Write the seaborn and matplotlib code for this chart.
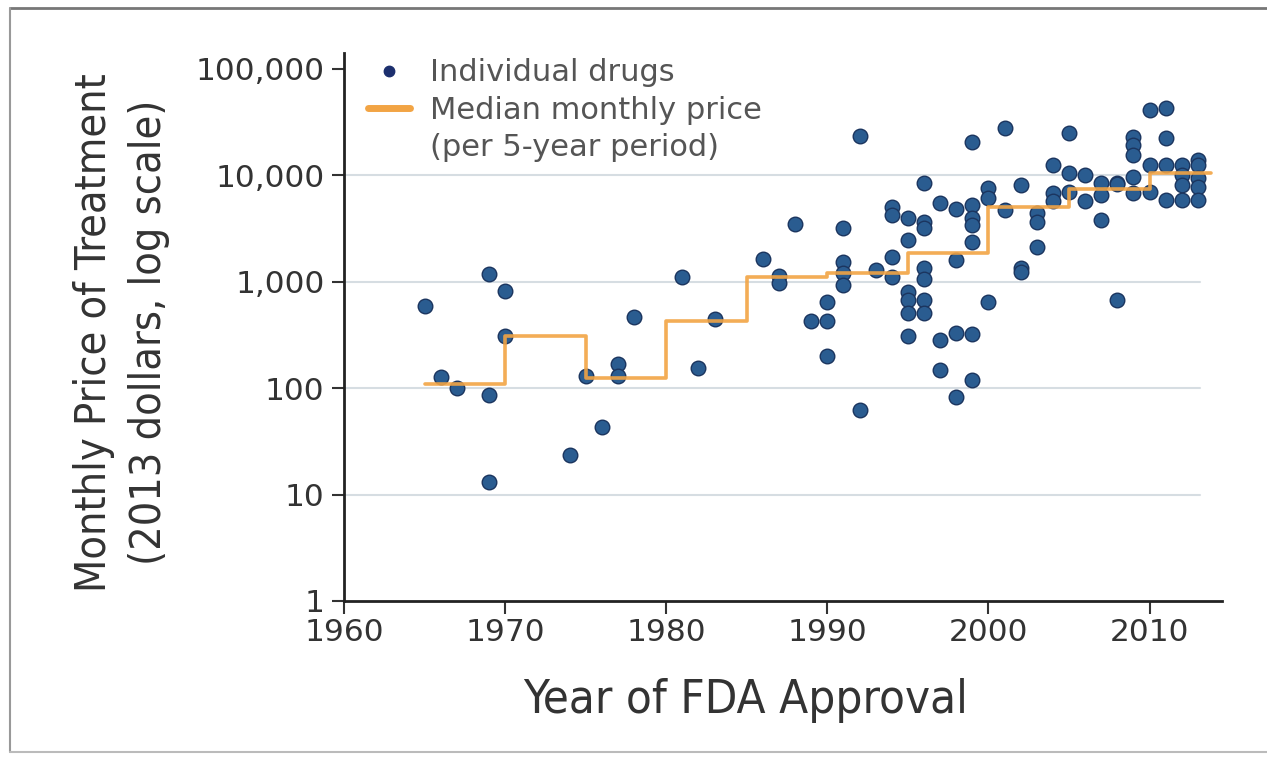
import numpy as np
import pandas as pd
import seaborn as sns
import matplotlib
matplotlib.use("Agg")
import matplotlib.pyplot as plt
from matplotlib.lines import Line2D
from matplotlib.ticker import FixedLocator, FuncFormatter, NullLocator
from matplotlib import font_manager

# Anno di approvazione FDA e prezzo mensile (dollari 2013) per ciascun farmaco
years = [
    1965, 1966, 1967, 1969, 1969, 1969, 1970, 1970, 1974, 1975, 1976, 1977, 1977, 1978,
    1981, 1982, 1983, 1986, 1987, 1987, 1988, 1989, 1990, 1990, 1990,
    1991, 1991, 1991, 1991, 1992, 1992, 1993, 1994, 1994, 1994, 1994,
    1995, 1995, 1995, 1995, 1995, 1995,
    1996, 1996, 1996, 1996, 1996, 1996, 1996,
    1997, 1997, 1997, 1998, 1998, 1998, 1998,
    1999, 1999, 1999, 1999, 1999, 1999, 1999,
    2000, 2000, 2000, 2001, 2001, 2002, 2002, 2002,
    2003, 2003, 2003, 2004, 2004, 2004, 2005, 2005, 2005,
    2006, 2006, 2007, 2007, 2007, 2008, 2008, 2008,
    2009, 2009, 2009, 2009, 2009, 2010, 2010, 2010,
    2011, 2011, 2011, 2011, 2012, 2012, 2012, 2012,
    2013, 2013, 2013, 2013, 2013,
]
prices = [
    590, 127, 100, 1190, 86, 13, 820, 310, 23.5, 130, 43, 170, 130, 470,
    1110, 155, 450, 1640, 1130, 980, 3500, 430, 650, 430, 200,
    3200, 1540, 1210, 930, 23500, 63, 1300, 5000, 4200, 1700, 1110,
    4000, 2450, 800, 680, 510, 310,
    8500, 3650, 3200, 1350, 1050, 680, 510,
    5500, 285, 148, 4800, 1600, 330, 83,
    20500, 5300, 4000, 3400, 2350, 320, 120,
    7600, 6100, 650, 28000, 4700, 8100, 1350, 1240,
    4450, 3650, 2100, 12500, 6800, 5700, 25000, 10500, 6900,
    10000, 5700, 8500, 6600, 3800, 8500, 8200, 680,
    23000, 19300, 15600, 9600, 6800, 41000, 12600, 6900,
    43000, 22500, 12600, 5900, 12600, 10000, 8100, 5900,
    13900, 12600, 9400, 7700, 5900,
]

# Mediana per periodo di 5 anni (gradini)
period_start = [1965, 1970, 1975, 1980, 1985, 1990, 1995, 2000, 2005, 2010, 2013.8]
median_price = [110, 310, 125, 430, 1100, 1200, 1850, 5000, 7400, 10500, 10500]

y_ticks = [1, 10, 100, 1000, 10000, 100000]
x_ticks = [1960, 1970, 1980, 1990, 2000, 2010]

legend_labels = ["Individual drugs", "Median monthly price", "(per 5-year period)"]

df = pd.DataFrame({"year": years, "price": prices})
df_med = pd.DataFrame({"year": period_start, "price": median_price})

sns.set_theme(style="white")
plt.rcParams["font.family"] = ["DejaVu Sans"]

# font condensato per le etichette degli assi, se disponibile
cond_path = None
for f in font_manager.fontManager.ttflist:
    fn = f.fname.lower()
    if "dejavusanscondensed.ttf" in fn or "liberationsansnarrow-regular" in fn:
        cond_path = f.fname
        break
if cond_path:
    ylab_font = font_manager.FontProperties(fname=cond_path, size=31)
    xlab_font = font_manager.FontProperties(fname=cond_path, size=34)
else:
    ylab_font = font_manager.FontProperties(family="DejaVu Sans", size=25)
    xlab_font = font_manager.FontProperties(family="DejaVu Sans", size=28)

fig = plt.figure(figsize=(12.67, 7.57), dpi=100)
ax = fig.add_axes([344 / 1267, 156 / 757, 878 / 1267, 548 / 757])

# griglia orizzontale chiara
for v in y_ticks[1:-1]:
    ax.axhline(v, xmin=0, xmax=0.975, color="#d6dde2", lw=1.5, zorder=0)

sns.scatterplot(data=df, x="year", y="price", ax=ax, s=110, color="#2a5c90",
                edgecolor="#1b355f", linewidth=1.0, zorder=3, legend=False)
sns.lineplot(data=df_med, x="year", y="price", ax=ax, estimator=None,
             drawstyle="steps-post", color="#f2a444", lw=2.6, alpha=0.9,
             zorder=4, legend=False)

ax.set_yscale("log")
ax.set_ylim(1, 141000)
ax.set_xlim(1960, 2014.5)

ax.yaxis.set_major_locator(FixedLocator(y_ticks))
ax.yaxis.set_minor_locator(NullLocator())
ax.yaxis.set_major_formatter(FuncFormatter(lambda v, p: f"{int(v):,}"))
ax.xaxis.set_major_locator(FixedLocator(x_ticks))

ax.tick_params(axis="both", which="major", direction="out", length=9, width=1.5,
               color="#333333", labelsize=22.5, labelcolor="#333333", pad=3,
               left=True, bottom=True)
ax.tick_params(axis="y", pad=5)

for s in ["top", "right"]:
    ax.spines[s].set_visible(False)
for s in ["left", "bottom"]:
    ax.spines[s].set_color("#222222")
    ax.spines[s].set_linewidth(2)

ax.set_xlabel("Year of FDA Approval", fontproperties=xlab_font, color="#333333")
ax.xaxis.set_label_coords(0.457, -0.14)
ax.set_ylabel("Monthly Price of Treatment\n(2013 dollars, log scale)",
              fontproperties=ylab_font, color="#333333", linespacing=1.4)
ax.yaxis.set_label_coords(-0.198, 0.49)

handles = [
    Line2D([], [], marker="o", ls="none", color="#1c2f6e", markersize=7.5),
    Line2D([], [], color="#f2a444", lw=5),
    Line2D([], [], ls="none"),
]
leg = ax.legend(handles, legend_labels, loc="upper left", bbox_to_anchor=(0.0, 1.035),
                frameon=False, fontsize=22, handlelength=1.35, handletextpad=0.65,
                labelspacing=0.28, borderpad=0.3)
for t in leg.get_texts():
    t.set_color("#555555")

# cornice della figura
fig.add_artist(Line2D([0.008, 1.0], [0.99, 0.99], transform=fig.transFigure,
                      color="#777777", lw=2))
fig.add_artist(Line2D([0.008, 0.008], [0.006, 0.99], transform=fig.transFigure,
                      color="#999999", lw=1.5))
fig.add_artist(Line2D([0.008, 1.0], [0.006, 0.006], transform=fig.transFigure,
                      color="#bbbbbb", lw=1.5))

fig.savefig("out.png", dpi=100)
